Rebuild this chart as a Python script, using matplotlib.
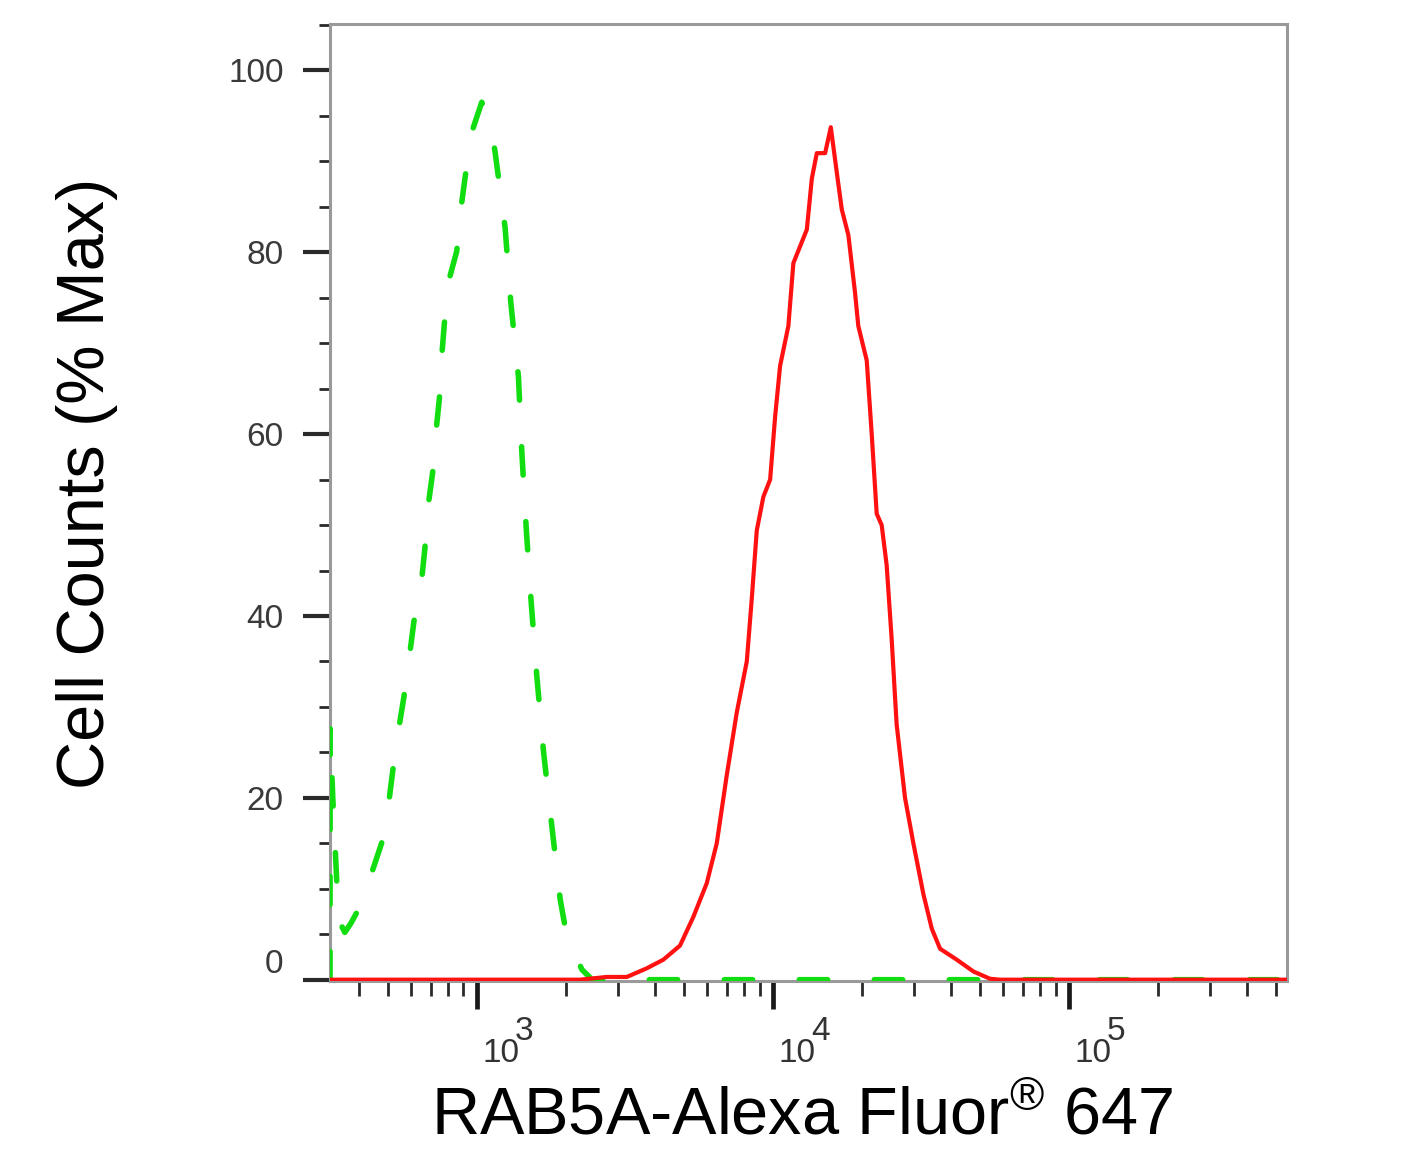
import numpy as np
import matplotlib
matplotlib.use('Agg')
import matplotlib.pyplot as plt
from matplotlib.ticker import FixedLocator, NullFormatter
import matplotlib.transforms as mtransforms

plt.rcParams['font.family'] = ['Liberation Sans', 'DejaVu Sans']
plt.rcParams['mathtext.default'] = 'regular'

# isotype control (green dashed)
ctrl_x = [318.7, 319, 325.6, 335.9, 343.9, 357.6, 374.7, 392.6, 441.3, 477.0,
          503.8, 519.7, 544.5, 566.2, 593.3, 612.1, 650.1, 666.8, 685.4, 708.2,
          726.7, 745.6, 759.6, 775.2, 799.8, 853.8, 883.0, 911.0, 959.6, 1037.3,
          1107, 1151, 1244, 1300, 1380, 1417, 1465, 1523, 1592, 1677, 1789,
          1910, 2012, 2262, 2450, 545000]
ctrl_y = [0, 27.6, 20, 10.7, 6.3, 5.2, 6.2, 7.4, 11.8, 15.1,
          19.6, 23.1, 27.7, 31.1, 36, 39.4, 44, 47.5, 52.4, 55.8,
          60.3, 63.8, 68.5, 72.1, 76.7, 80.1, 84.9, 88.2, 93.2, 96.5,
          94.4, 91, 82.7, 74.5, 66.3, 58, 49.8, 41.6, 33.4, 25.1, 16.9,
          8.8, 4.7, 1.1, 0, 0]

# RAB5A stained (red)
rab_x = [318.7, 2228, 2740, 3205, 3743, 4259, 4849, 5378, 5970, 6454, 6977,
         7542, 8152, 8474, 8810, 9273, 9775, 10161, 10562, 11266, 11711, 13005,
         13520, 14054, 14993, 15672, 16421, 17071, 17963, 18913, 19407, 20724,
         21543, 22393, 23278, 24198, 25154, 26147, 27912, 29789, 32206, 34383,
         36669, 41754, 47530, 54109, 58480, 545000]
rab_y = [0, 0, 0.3, 0.3, 1.25, 2.2, 3.75, 6.9, 10.6, 15, 22.5,
         29.4, 35, 41.9, 49.4, 53.1, 55, 61.9, 67.5, 71.9, 78.8, 82.5,
         88.1, 90.9, 90.9, 93.75, 88.75, 84.7, 81.9, 75.6, 71.9, 68.1,
         60, 51.25, 50, 45.6, 37.5, 28.1, 20, 15, 9.4, 5.6,
         3.4, 2.2, 0.9, 0.1, 0, 0]

y_major = [0, 20, 40, 60, 80, 100]
y_minor = list(range(0, 110, 5))
x_decades = [3, 4, 5]
x_minor = [400, 500, 600, 700, 800, 900,
           2000, 3000, 4000, 5000, 6000, 7000, 8000, 9000,
           20000, 30000, 40000, 50000, 60000, 70000, 80000, 90000,
           200000, 300000, 400000, 500000]

fig = plt.figure(figsize=(14.08, 11.55), dpi=100)
ax = fig.add_axes([0.2344, 0.1506, 0.6797, 0.8286])

ax.plot(ctrl_x, ctrl_y, color='#11dd11', lw=4.0, dashes=(5.1, 8.4),
        dash_capstyle='round', zorder=3)
ax.plot(rab_x, rab_y, color='#ff1111', lw=3.0, solid_joinstyle='round', zorder=4)

ax.set_xscale('log')
ax.set_xlim(318.7, 545000)
ax.set_ylim(-0.15, 105.1)

for s in ax.spines.values():
    s.set_color('#9a9a9a')
    s.set_linewidth(2.2)

ax.yaxis.set_major_locator(FixedLocator(y_major))
ax.yaxis.set_minor_locator(FixedLocator(y_minor))
ax.xaxis.set_major_locator(FixedLocator([10 ** d for d in x_decades]))
ax.xaxis.set_minor_locator(FixedLocator(x_minor))
ax.xaxis.set_major_formatter(NullFormatter())
ax.xaxis.set_minor_formatter(NullFormatter())

ax.tick_params(axis='y', which='major', length=19.5, width=3, color='#2a2a2a',
               pad=14, labelsize=24, labelcolor='#3a3a3a')
ax.tick_params(axis='y', which='minor', length=8, width=2, color='#2a2a2a')
ax.tick_params(axis='x', which='major', length=20, width=3.4, color='#1a1a1a')
ax.tick_params(axis='x', which='minor', length=11, width=2, color='#2a2a2a')
for lab in ax.get_yticklabels():
    lab.set_family(['Liberation Sans Narrow', 'Liberation Sans'])
ax.get_yticklabels()[0].set_verticalalignment('bottom')

# decade labels 10^n, drawn with a large superscript like the original
trans = mtransforms.blended_transform_factory(ax.transData, ax.transAxes)
for d in x_decades:
    t1 = mtransforms.offset_copy(trans, fig=fig, x=5, y=0, units='dots')
    ax.text(10 ** d, -0.0846, '10', transform=t1, ha='left', va='baseline',
            fontsize=24, color='#333333',
            family=['Liberation Sans Narrow', 'Liberation Sans'])
    t2 = mtransforms.offset_copy(trans, fig=fig, x=38, y=0, units='dots')
    ax.text(10 ** d, -0.0617, str(d), transform=t2, ha='left', va='baseline',
            fontsize=24, color='#333333',
            family=['Liberation Sans Narrow', 'Liberation Sans'])

ax.set_ylabel('Cell Counts (% Max)', fontsize=48, color='black')
ax.yaxis.set_label_coords(-0.222, 0.52)
ax.set_xlabel('RAB5A-Alexa Fluor$^{®}$ 647', fontsize=48, color='black')
ax.xaxis.set_label_coords(0.493, -0.11)

fig.savefig('out.png', dpi=100)
